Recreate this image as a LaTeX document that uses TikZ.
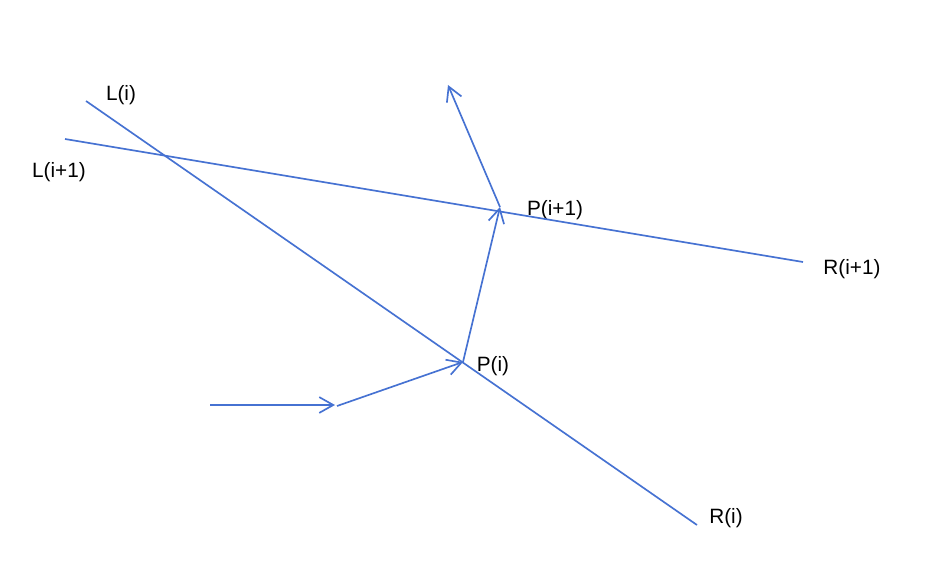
\documentclass[tikz,border=0pt]{standalone}
\usepackage{fontspec}
\setmainfont{Liberation Sans}
\usetikzlibrary{arrows.meta}
\definecolor{rayblue}{RGB}{70,114,210}
\begin{document}
\begin{tikzpicture}[x=0.02cm, y=-0.02cm, line width=0.95pt,
    ray/.style={draw=rayblue, -{Straight Barb[length=8pt,width=9pt]}},
    lbl/.style={font=\fontsize{11.8}{14}\selectfont, inner sep=0pt}]
                \useasboundingbox (0,0) rectangle (937,571);
                \coordinate (Li) at (86,101);
                \coordinate (Ri) at (697,525);
                \coordinate (Lj) at (65,139);
                \coordinate (Rj) at (803,262);
                \coordinate (S0) at (210,405);
                \coordinate (S1) at (335,405);
                \coordinate (S2) at (337,406);
                \coordinate (Pi) at (463,362);
                \coordinate (Pj) at (500,207);
                \coordinate (Out) at (448,85);

                \node (LiLbl) [lbl] at (121,95) {L(i)};
                \node (LjLbl) [lbl] at (59,172) {L(i+1)};
                \node (RiLbl) [lbl] at (726,518) {R(i)};
                \node (RjLbl) [lbl] at (852,269) {R(i+1)};
                \node (PiLbl) [lbl] at (493,366) {P(i)};
                \node (PjLbl) [lbl] at (555,210) {P(i+1)};

                \draw[rayblue] (Li) -- (Ri);
                \draw[rayblue] (Lj) -- (Rj);
                \draw[ray] (S0) -- (S1);
                \draw[ray] (S2) -- (Pi);
                \draw[ray] (Pi) -- (Pj);
                \draw[ray] (Pj) -- (Out);
            \end{tikzpicture}
\end{document}
